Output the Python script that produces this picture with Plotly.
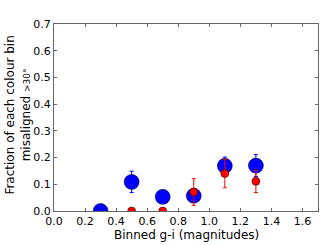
import plotly.graph_objects as go

blue_x = [0.3, 0.5, 0.7, 0.9, 1.1, 1.3]
blue_y = [0.0, 0.109, 0.053, 0.057, 0.169, 0.170]
blue_err = [0.0, 0.040, 0.020, 0.025, 0.033, 0.041]

red_x = [0.5, 0.7, 0.9, 1.1, 1.3]
red_y = [0.0, 0.0, 0.071, 0.140, 0.111]
red_err = [0.0, 0.0, 0.050, 0.053, 0.042]

x_ticks = [0.0, 0.2, 0.4, 0.6, 0.8, 1.0, 1.2, 1.4, 1.6]
y_ticks = [0.0, 0.1, 0.2, 0.3, 0.4, 0.5, 0.6, 0.7]

fig = go.Figure()
fig.add_trace(go.Scatter(
    x=blue_x, y=blue_y, mode="markers",
    marker=dict(color="blue", size=15, line=dict(color="black", width=0.5)),
    error_y=dict(type="data", array=blue_err, color="blue", thickness=1, width=2),
    showlegend=False,
))
fig.add_trace(go.Scatter(
    x=red_x, y=red_y, mode="markers",
    marker=dict(color="red", size=8, line=dict(color="black", width=0.5)),
    error_y=dict(type="data", array=red_err, color="red", thickness=1, width=2),
    showlegend=False,
))

axis_common = dict(
    showline=True, linecolor="#666", linewidth=1, mirror="ticks",
    ticks="inside", ticklen=3, tickcolor="#666",
    showgrid=False, zeroline=False, automargin=False,
    tickfont=dict(family="DejaVu Sans", size=11, color="black"),
)

# plot area: x 54..318, y 24..211
fig.update_layout(
    width=327, height=245,
    margin=dict(l=54, r=9, t=24, b=34),
    paper_bgcolor="white", plot_bgcolor="white",
    font=dict(family="DejaVu Sans", size=12, color="black"),
    xaxis=dict(range=[0, 1.7], tickvals=x_ticks,
               ticktext=[f"{v:.1f}" for v in x_ticks], **axis_common),
    yaxis=dict(range=[0, 0.7], tickvals=y_ticks,
               ticktext=[f"{v:.1f}" for v in y_ticks], **axis_common),
    annotations=[
        dict(text="Binned g-i (magnitudes)", xref="paper", yref="paper",
             x=0.5, y=-0.128, xanchor="center", yanchor="middle",
             showarrow=False, borderpad=0, font=dict(size=12)),
        dict(text="Fraction of each colour bin<br>misaligned <span style='font-size:9px'>&gt;30°</span>",
             xref="paper", yref="paper", x=-0.07, y=0.513,
             xanchor="right", yanchor="middle", textangle=-90,
             showarrow=False, font=dict(size=12)),
    ],
)

fig.write_html("out.html", config={"displayModeBar": False},
               post_script="document.body.style.margin='0';document.body.style.padding='0';")
